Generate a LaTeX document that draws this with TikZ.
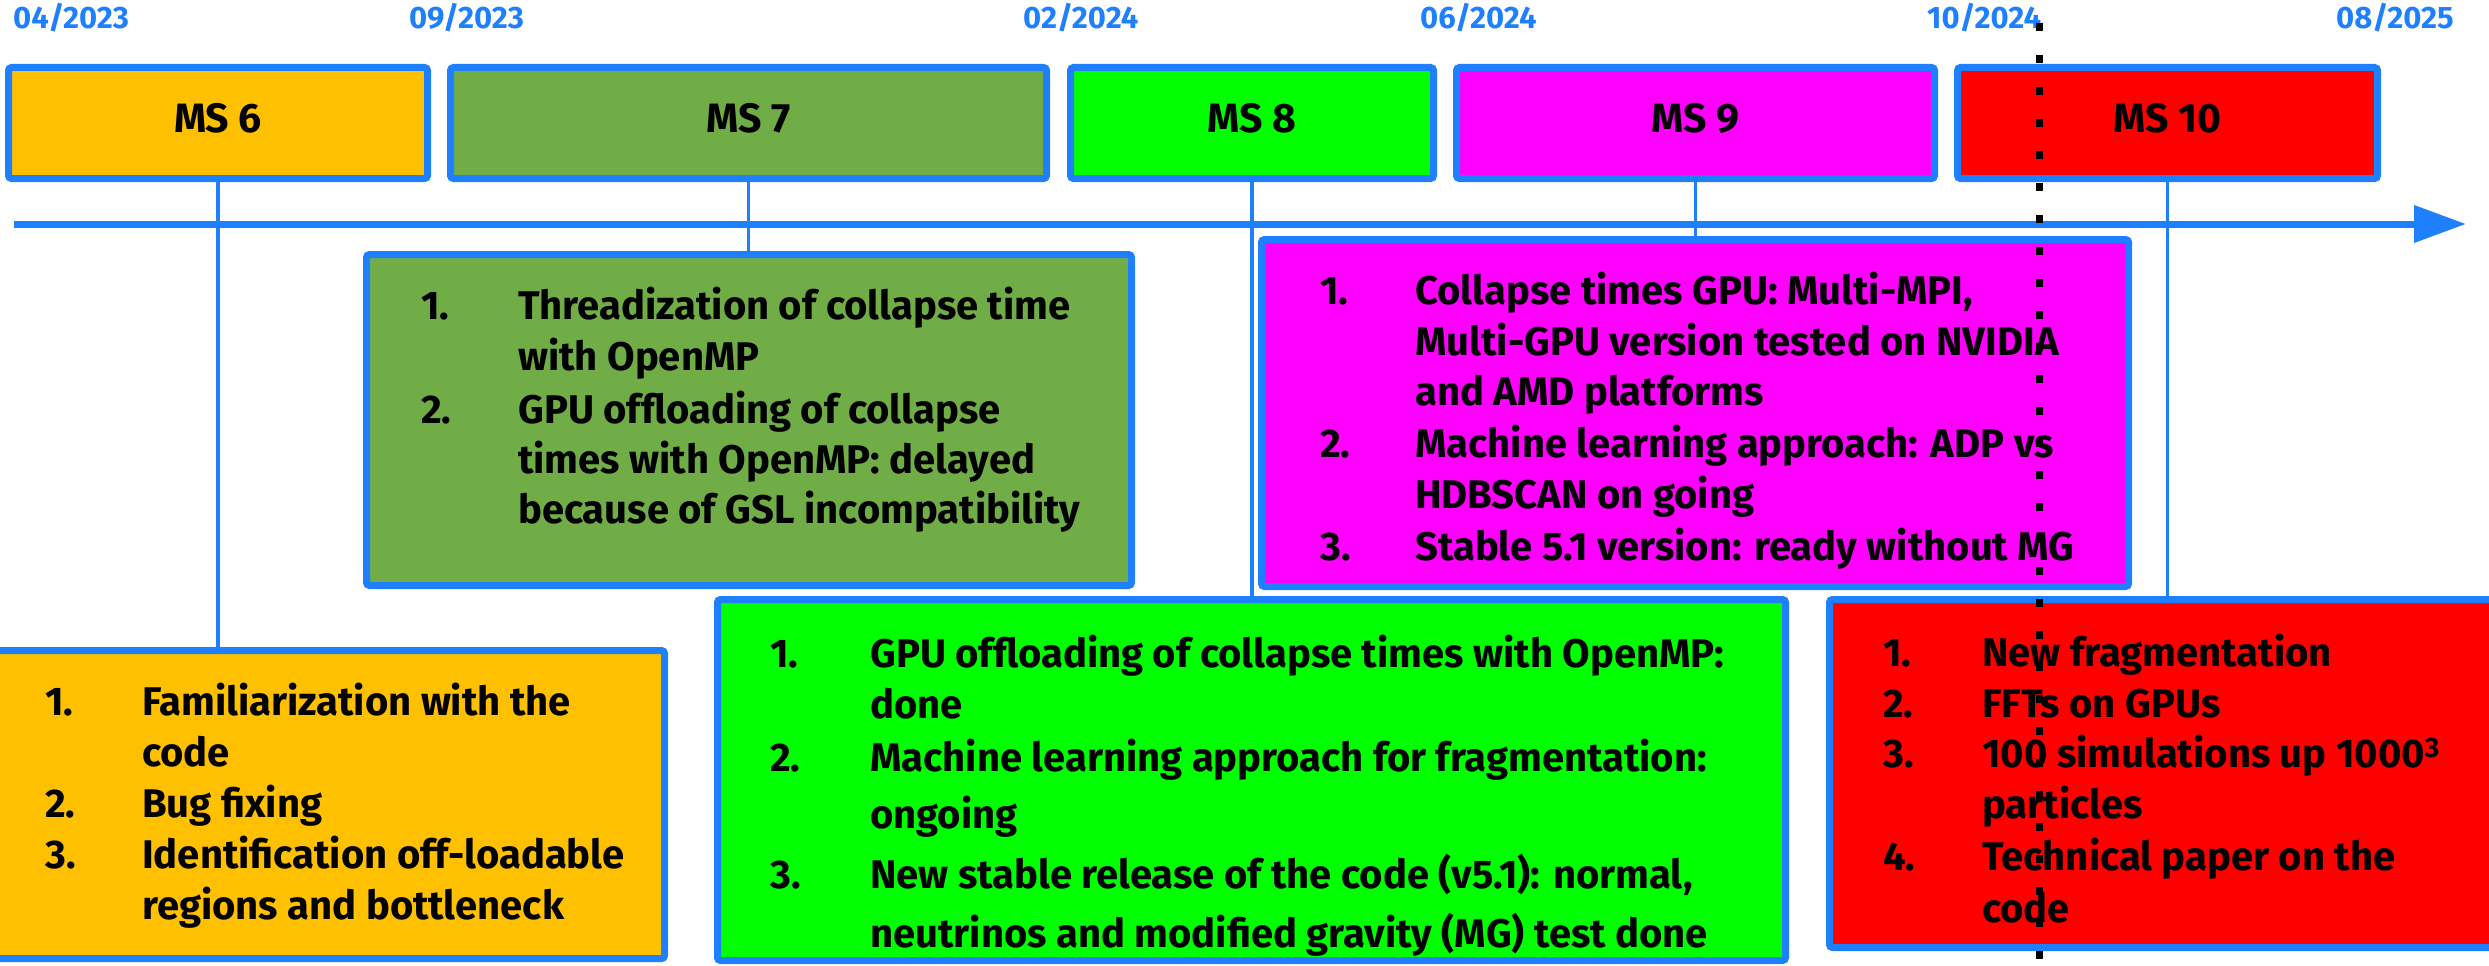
\documentclass[tikz,border=0pt]{standalone}
\usepackage{fontspec}
\setmainfont{Fira Sans}
\usetikzlibrary{arrows.meta}
\definecolor{tlblue}{RGB}{31,128,255}
\definecolor{msorange}{RGB}{255,192,0}
\definecolor{msolive}{RGB}{112,173,71}
\definecolor{msgreen}{RGB}{0,255,0}
\definecolor{msmagenta}{RGB}{255,0,255}
\definecolor{msred}{RGB}{255,0,0}
\begin{document}
\begin{tikzpicture}[x=1pt,y=-1pt,
  msbox/.style={draw=tlblue, line width=7pt, rounded corners=3pt, minimum height=111pt, inner sep=0pt, font=\fontsize{41}{48}\selectfont\bfseries, text depth=11pt},
  detbox/.style={draw=tlblue, line width=7pt, rounded corners=3pt, inner sep=0pt},
  datelbl/.style={anchor=base west, inner sep=0pt, text=tlblue, font=\fontsize{31}{36}\selectfont\bfseries},
  itm/.style={anchor=base west, inner sep=0pt, font=\fontsize{40}{48}\selectfont\bfseries},
  conn/.style={draw=tlblue, line width=3.5pt},
]
\useasboundingbox (0,0) rectangle (2489,966);
\clip (0,0) rectangle (2489,966);

% date labels
\node[datelbl] (t1) at (13,29) {04/2023};
\node[datelbl] (t2) at (409,29) {09/2023};
\node[datelbl] (t3) at (1023,29) {02/2024};
\node[datelbl] (t4) at (1420,29) {06/2024};
\node[datelbl] (t5) at (1927,29) {10/2024};
\node[datelbl] (t6) at (2336,29) {08/2025};

% milestone boxes
\node[msbox, fill=msorange,  minimum width=419pt] (ms6)  at (218,123)    {MS 6};
\node[msbox, fill=msolive,   minimum width=596pt] (ms7)  at (748.5,123)  {MS 7};
\node[msbox, fill=msgreen,   minimum width=363pt] (ms8)  at (1252,123)   {MS 8};
\node[msbox, fill=msmagenta, minimum width=478pt] (ms9)  at (1695.5,123) {MS 9};
\node[msbox, fill=msred,     minimum width=420pt] (ms10) at (2167.5,123) {MS 10};

% detail boxes (positions only)
\path (329,804.5) coordinate (c6) (749,420) coordinate (c7) (1251.5,780) coordinate (c8)
      (1695,413) coordinate (c9) (2163,773.5) coordinate (c10);

% connectors (under boxes)
\draw[conn] (ms6.south)  -- (ms6.south  |- 0,650);
\draw[conn] (ms7.south)  -- (ms7.south  |- 0,254);
\draw[conn] (ms8.south)  -- (ms8.south  |- 0,600);
\draw[conn] (ms9.south)  -- (ms9.south  |- 0,240);
\draw[conn] (ms10.south) -- (ms10.south |- 0,600);

% timeline axis
\coordinate (ax0) at (14,224);
\coordinate (ax1) at (2466,224);
\draw[tlblue, line width=7pt, -{Triangle[length=52pt,width=36pt]}] (ax0) -- (ax1);

\node[detbox, fill=msorange,  minimum width=671pt,  minimum height=308pt] (d6)  at (c6)  {};
\node[detbox, fill=msolive,   minimum width=765pt,  minimum height=331pt] (d7)  at (c7)  {};
\node[detbox, fill=msgreen,   minimum width=1068pt, minimum height=361pt] (d8)  at (c8)  {};
\node[detbox, fill=msmagenta, minimum width=867pt,  minimum height=347pt] (d9)  at (c9)  {};
\node[detbox, fill=msred,     minimum width=667pt,  minimum height=348pt] (d10) at (c10) {};

% MS6 details
\node[itm] (a1n) at (45,715) {1.};
\node[itm] (a1a) at (142,715) {Familiarization with the};
\node[itm] (a1b) at (142,766) {code};
\node[itm] (a2n) at (45,817) {2.};
\node[itm] (a2a) at (142,817) {Bug fixing};
\node[itm] (a3n) at (45,868) {3.};
\node[itm] (a3a) at (142,868) {Identification off-loadable};
\node[itm] (a3b) at (142,919) {regions and bottleneck};

% MS7 details
\node[itm] (b1n) at (421,319) {1.};
\node[itm] (b1a) at (518,319) {Threadization of collapse time};
\node[itm] (b1b) at (518,370) {with OpenMP};
\node[itm] (b2n) at (421,423) {2.};
\node[itm] (b2a) at (518,423) {GPU offloading of collapse};
\node[itm] (b2b) at (518,473) {times with OpenMP: delayed};
\node[itm] (b2c) at (518,523) {because of GSL incompatibility};

% MS8 details
\node[itm] (c1n) at (770,667) {1.};
\node[itm] (c1a) at (870,667) {GPU offloading of collapse times with OpenMP:};
\node[itm] (c1b) at (870,718) {done};
\node[itm] (c2n) at (770,771) {2.};
\node[itm] (c2a) at (870,771) {Machine learning approach for fragmentation:};
\node[itm] (c2b) at (870,828) {ongoing};
\node[itm] (c3n) at (770,888) {3.};
\node[itm] (c3a) at (870,888) {New stable release of the code (v5.1): normal,};
\node[itm] (c3b) at (870,947) {neutrinos and modified gravity (MG) test done};

% MS9 details
\node[itm] (e1n) at (1320,304) {1.};
\node[itm] (e1a) at (1415,304) {Collapse times GPU: Multi-MPI,};
\node[itm] (e1b) at (1415,355) {Multi-GPU version tested on NVIDIA};
\node[itm] (e1c) at (1415,405) {and AMD platforms};
\node[itm] (e2n) at (1320,457) {2.};
\node[itm] (e2a) at (1415,457) {Machine learning approach: ADP vs};
\node[itm] (e2b) at (1415,508) {HDBSCAN on going};
\node[itm] (e3n) at (1320,560) {3.};
\node[itm] (e3a) at (1415,560) {Stable 5.1 version: ready without MG};

% MS10 details
\node[itm] (f1n) at (1883,666) {1.};
\node[itm] (f1a) at (1982,666) {New fragmentation};
\node[itm] (f2n) at (1883,717) {2.};
\node[itm] (f2a) at (1982,717) {FFTs on GPUs};
\node[itm] (f3n) at (1883,767) {3.};
\node[itm] (f3a) at (1982,767) {100 simulations up 1000\textsuperscript{3}};
\node[itm] (f3b) at (1982,818) {particles};
\node[itm] (f4n) at (1883,870) {4.};
\node[itm] (f4a) at (1982,870) {Technical paper on the};
\node[itm] (f4b) at (1982,922) {code};

% dotted marker line
\coordinate (dt0) at (2039,23);
\coordinate (dt1) at (2039,970);
\draw[black, line width=7pt, dash pattern=on 8pt off 24pt] (dt0) -- (dt1);
\end{tikzpicture}
\end{document}
